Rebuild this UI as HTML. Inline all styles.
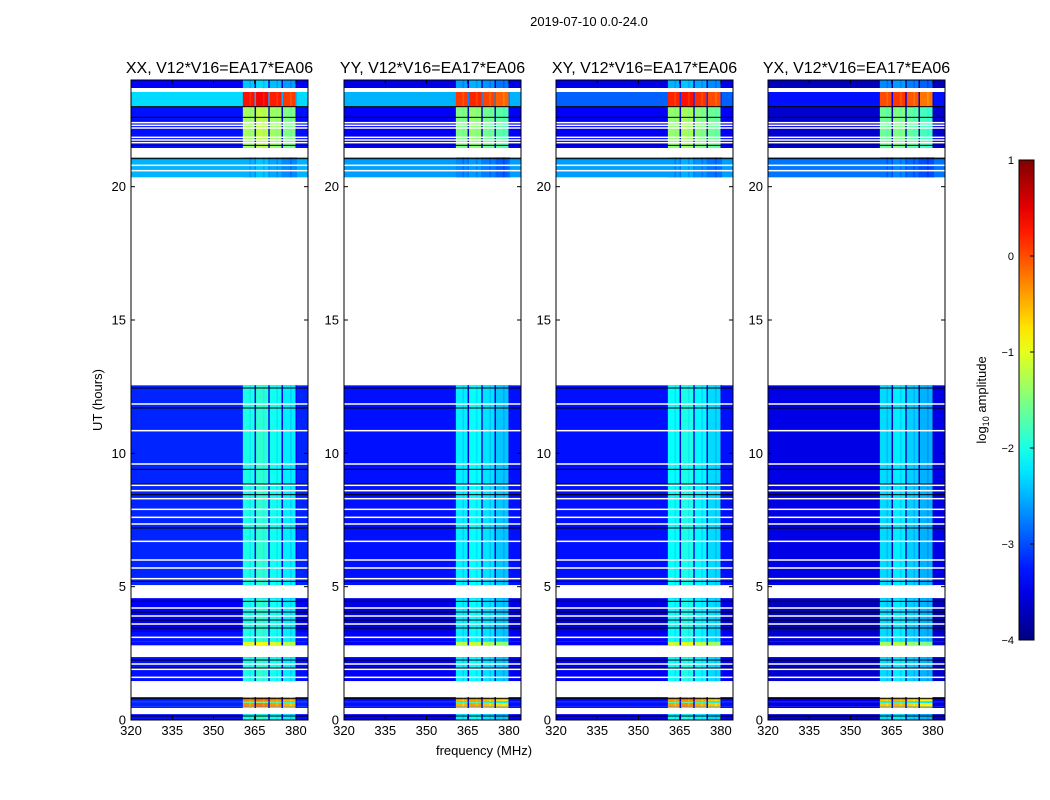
<!DOCTYPE html>
<html><head><meta charset="utf-8"><style>
body{margin:0;background:#fff;}
svg{display:block;font-family:"Liberation Sans",sans-serif;}
</style></head><body>
<svg id="fig" width="1050" height="800">
<text x="589" y="26" text-anchor="middle" font-size="13">2019-07-10 0.0-24.0</text>
<text x="484" y="755" text-anchor="middle" font-size="13">frequency (MHz)</text>
<text transform="translate(102,400) rotate(-90)" text-anchor="middle" font-size="13">UT (hours)</text>
<text transform="translate(986,400) rotate(-90)" text-anchor="middle" font-size="13">log<tspan font-size="9" dy="3">10</tspan><tspan dy="-3"> amplitude</tspan></text>
</svg>
<script>
// ---- data ----
const panelTitles = ["XX, V12*V16=EA17*EA06","YY, V12*V16=EA17*EA06","XY, V12*V16=EA17*EA06","YX, V12*V16=EA17*EA06"];
const xTicks = [320,335,350,365,380];
const yTicks = [0,5,10,15,20];
const cbTicks = [-4,-3,-2,-1,0,1];
// time segments: start hour, end hour, background log-amp, band log-amp
const segStart = [0.0, 0.45, 0.5, 0.64, 0.7, 1.46, 2.8, 2.95, 3.3, 5.06, 20.35, 21.45, 23.0, 23.7];
const segEnd   = [0.22,0.5, 0.64,0.7, 0.86,2.36, 2.95,3.3, 4.57,12.55, 21.1, 23.0, 23.55,24.0];
const segBg    = [-3.3,-3.2,-3.2,-3.2,-3.2,-3.3,-3.3,-3.3,-3.4,-3.2, -2.5,-3.3,-2.3,-3.4];
const segBand  = [-2.0,-1.8,-0.3,-1.6,-0.3,-2.0,-1.0,-2.0,-2.0,-2.0, -2.5,-1.3, 0.3,-2.4];
// per-panel offsets
const panelBgOff   = [0.0, -0.1, -0.1, -0.3];
const panelBandOff = [0.0, -0.2, -0.1, -0.3];
const topCyanOff   = [0.0, -0.2, -0.6, -1.0];
// thin lines (hours)
const whiteLines = [11.85,10.85,9.6,8.8,8.6,8.3,7.9,7.6,7.35,6.7,6.0,5.7,5.3,4.2,3.9,3.6,3.1,2.1,1.9,1.6,22.4,22.3,22.2,21.85,21.75,21.65,20.8,20.6];
const blackLines = [12.45,11.7,9.4,8.85,8.45,7.2,5.2,4.45,4.05,3.75,3.45,2.25,1.95,0.8,0.15,23.0,22.6,21.55,21.05];
// sub-band edges (MHz)
const subBands = [360.7,365.5,370.5,375.3,380.4];
const subBandGain = [0.0, 0.1, -0.05, -0.2];

// ---- drawing ----
const NS="http://www.w3.org/2000/svg";
const svg=document.getElementById('fig');
function jet(v){ // v in -4..1
  let t=Math.max(0,Math.min(1,(v+4)/5));
  const c=x=>Math.round(255*Math.max(0,Math.min(1,x)));
  const r=c(Math.min(4*t-1.5,-4*t+4.5)), g=c(Math.min(4*t-0.5,-4*t+3.5)), b=c(Math.min(4*t+0.5,-4*t+2.5));
  return `rgb(${r},${g},${b})`;
}
function el(tag,attrs,parent){const e=document.createElementNS(NS,tag);for(const k in attrs)e.setAttribute(k,attrs[k]);(parent||svg).appendChild(e);return e;}
const panelX=[131,344,556,768], PW=177, PT=80, PH=640;
const fmin=320, fmax=384.4, hmax=24;
panelTitles.forEach((title,p)=>{
  const x0=panelX[p];
  const fx=f=>x0+(f-fmin)/(fmax-fmin)*PW;
  const hy=h=>PT+PH-h/hmax*PH;
  const g=el('g',{});
  
  
  el('rect',{x:x0,y:PT,width:PW,height:PH,fill:'#fff'},g);
  segStart.forEach((s,i)=>{
    const e=segEnd[i]; if(e<=s) return;
    let bg=segBg[i]+panelBgOff[p]; if(i===12) bg=segBg[i]+topCyanOff[p];
    const y1=hy(e), y2=hy(s);
    const r=el('rect',{x:x0,y:y1,width:PW,height:y2-y1,fill:jet(bg)},g);
    
    
    for(let k=0;k<subBands.length-1;k++){
      const v=segBand[i]+panelBandOff[p]+subBandGain[k];
      const a=fx(subBands[k]), b=fx(subBands[k+1]);
      const br=el('rect',{x:a,y:y1,width:b-a,height:y2-y1,fill:jet(v)},g);
      
      
      el('rect',{x:a+(b-a)*0.5,y:y1,width:(b-a)*0.12,height:y2-y1,fill:jet(v-0.3),opacity:0.5},g);
      el('rect',{x:b-1.5,y:y1,width:1.5,height:y2-y1,fill:jet(bg-0.2)},g);
    }
  });
  whiteLines.forEach(h=>{const l=el('rect',{x:x0,y:hy(h)-0.75,width:PW,height:1.5,fill:'#fff'},g);
    });
  blackLines.forEach(h=>{el('rect',{x:x0,y:hy(h)-0.5,width:PW,height:1,fill:'#000'},g);});
  el('rect',{x:x0,y:PT,width:PW,height:PH,fill:'none',stroke:'#000','stroke-width':1},g);
  const t=el('text',{x:x0+PW/2,y:PT-7,'text-anchor':'middle','font-size':16},g);
  t.textContent=title;
  
  
  xTicks.forEach(v=>{const x=fx(v);
    el('line',{x1:x,x2:x,y1:PT+PH,y2:PT+PH-4,stroke:'#000'},g);
    el('line',{x1:x,x2:x,y1:PT,y2:PT+4,stroke:'#000'},g);
    const tl=el('text',{x:x,y:PT+PH+15,'text-anchor':'middle','font-size':13},g);tl.textContent=v;
    });
  yTicks.forEach(v=>{const y=hy(v);
    el('line',{x1:x0,x2:x0+4,y1:y,y2:y,stroke:'#000'},g);
    el('line',{x1:x0+PW,x2:x0+PW-4,y1:y,y2:y,stroke:'#000'},g);
    const tl=el('text',{x:x0-5,y:y+4.5,'text-anchor':'end','font-size':13},g);tl.textContent=v;
    });
});
// colorbar
const cbX=1019,cbT=160,cbH=480,cbW=15;
const defs=el('defs',{});
const grad=el('linearGradient',{id:'jetg',x1:0,y1:1,x2:0,y2:0},defs);
for(let i=0;i<=20;i++){el('stop',{offset:i/20,'stop-color':jet(-4+5*i/20)},grad);}
const cb=el('rect',{x:cbX,y:cbT,width:cbW,height:cbH,fill:'url(#jetg)',stroke:'#000'});


cbTicks.forEach(v=>{const y=cbT+cbH-(v+4)/5*cbH;
  el('line',{x1:cbX+cbW-4,x2:cbX+cbW,y1:y,y2:y,stroke:'#000'});
  const tl=el('text',{x:cbX-5,y:y+4,'text-anchor':'end','font-size':11},svg);tl.textContent=v<0?'\u2212'+(-v):v;
  });
</script>
</body></html>
